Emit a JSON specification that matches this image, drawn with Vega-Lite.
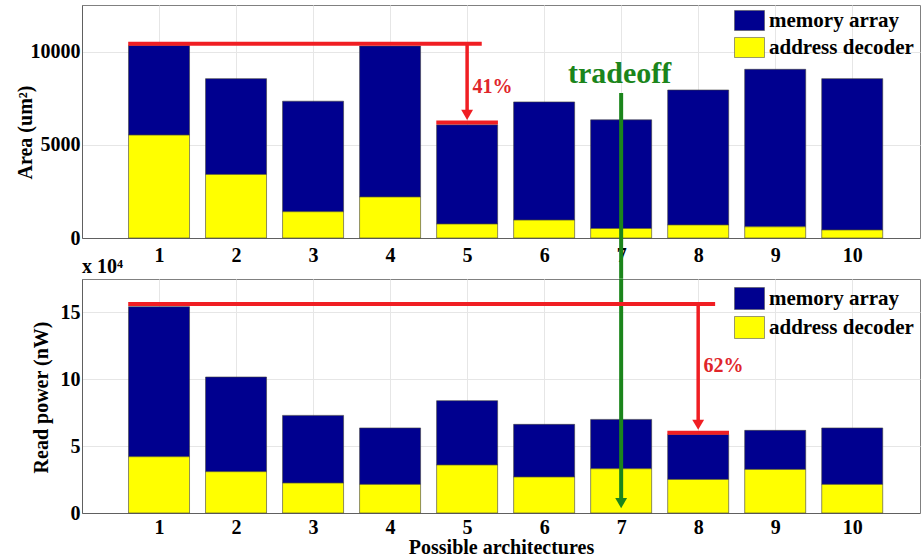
{
  "$schema": "https://vega.github.io/schema/vega-lite/v6.json",
  "padding": {"left": 14, "top": 4, "right": 0, "bottom": 0},
  "bounds": "flush",
  "spacing": 41,
  "config": {
    "font": "Liberation Serif",
    "view": {"stroke": "#808080", "strokeWidth": 1},
    "scale": {"continuousPadding": 0},
    "axis": {
      "labelFont": "Liberation Serif", "labelFontWeight": "bold", "labelFontSize": 20, "labelColor": "#000",
      "titleFont": "Liberation Serif", "titleFontWeight": "bold", "titleFontSize": 20, "titleColor": "#000",
      "ticks": false, "gridColor": "#e6e6e6", "gridWidth": 1, "domainColor": "#606060",
      "labelOverlap": false, "labelFlush": false
    },
    "title": {"font": "Liberation Serif", "fontWeight": "bold", "fontSize": 20, "color": "#000"}
  },
  "datasets": {
    "area": [
      {"arch": 1, "component": "memory array", "value": 4810}, {"arch": 1, "component": "address decoder", "value": 5520},
      {"arch": 2, "component": "memory array", "value": 5140}, {"arch": 2, "component": "address decoder", "value": 3410},
      {"arch": 3, "component": "memory array", "value": 5930}, {"arch": 3, "component": "address decoder", "value": 1410},
      {"arch": 4, "component": "memory array", "value": 8100}, {"arch": 4, "component": "address decoder", "value": 2200},
      {"arch": 5, "component": "memory array", "value": 5320}, {"arch": 5, "component": "address decoder", "value": 750},
      {"arch": 6, "component": "memory array", "value": 6340}, {"arch": 6, "component": "address decoder", "value": 960},
      {"arch": 7, "component": "memory array", "value": 5830}, {"arch": 7, "component": "address decoder", "value": 510},
      {"arch": 8, "component": "memory array", "value": 7240}, {"arch": 8, "component": "address decoder", "value": 700},
      {"arch": 9, "component": "memory array", "value": 8450}, {"arch": 9, "component": "address decoder", "value": 600},
      {"arch": 10, "component": "memory array", "value": 8120}, {"arch": 10, "component": "address decoder", "value": 430}
    ],
    "power": [
      {"arch": 1, "component": "memory array", "value": 11.22}, {"arch": 1, "component": "address decoder", "value": 4.21},
      {"arch": 2, "component": "memory array", "value": 7.08}, {"arch": 2, "component": "address decoder", "value": 3.09},
      {"arch": 3, "component": "memory array", "value": 5.06}, {"arch": 3, "component": "address decoder", "value": 2.24},
      {"arch": 4, "component": "memory array", "value": 4.22}, {"arch": 4, "component": "address decoder", "value": 2.14},
      {"arch": 5, "component": "memory array", "value": 4.81}, {"arch": 5, "component": "address decoder", "value": 3.59},
      {"arch": 6, "component": "memory array", "value": 3.94}, {"arch": 6, "component": "address decoder", "value": 2.69},
      {"arch": 7, "component": "memory array", "value": 3.69}, {"arch": 7, "component": "address decoder", "value": 3.31},
      {"arch": 8, "component": "memory array", "value": 3.37}, {"arch": 8, "component": "address decoder", "value": 2.51},
      {"arch": 9, "component": "memory array", "value": 2.92}, {"arch": 9, "component": "address decoder", "value": 3.26},
      {"arch": 10, "component": "memory array", "value": 4.22}, {"arch": 10, "component": "address decoder", "value": 2.14}
    ],
    "topH": [{"x": 0.6, "x2": 5.19, "y": 10420}, {"x": 4.6, "x2": 5.4, "y": 6200}],
    "topV": [{"x": 5, "y": 10420, "y2": 6604}],
    "topHead": [{"x": 5, "y": 6604}],
    "topText": [{"x": 5.07, "y": 7783, "label": "41%"}],
    "tradeoffText": [{"x": 6.98, "y": 8318, "label": "tradeoff"}],
    "greenTop": [{"x": 7, "y": 7783, "y2": -2180}],
    "botH": [{"x": 0.6, "x2": 8.22, "y": 15.63}, {"x": 7.6, "x2": 8.4, "y": 6.0}],
    "botV": [{"x": 8, "y": 15.63, "y2": 6.6}],
    "botHead": [{"x": 8, "y": 6.6}],
    "botText": [{"x": 8.07, "y": 10.57, "label": "62%"}],
    "greenBot": [{"x": 7, "y": 17.5, "y2": 0.73}],
    "greenHead": [{"x": 7, "y": 0.73}]
  },
  "vconcat": [
    {
      "width": 838, "height": 233,
      "layer": [
        {
          "data": {"name": "area"},
          "mark": {"type": "bar", "size": 61, "stroke": "#404040", "strokeWidth": 0.6},
          "encoding": {
            "x": {"field": "arch", "type": "quantitative", "scale": {"domain": [0, 10.88], "nice": false, "zero": false, "padding": 0},
                  "axis": {"title": null, "values": [1,2,3,4,5,6,7,8,9,10], "format": "d", "grid": true, "labelPadding": 7, "domain": true}},
            "y": {"field": "value", "type": "quantitative", "stack": "zero", "scale": {"domain": [0, 12500], "nice": false},
                  "axis": {"title": "Area (um²)", "values": [0, 5000, 10000], "format": "d", "grid": true, "labelPadding": 2,
                           "titleX": -67, "titleY": 127, "titleBaseline": "top", "titleAlign": "center", "titleAngle": -90}},
            "color": {"field": "component", "type": "nominal",
                      "scale": {"domain": ["memory array", "address decoder"], "range": ["#00008F", "#FFFF00"]},
                      "legend": {"title": null, "orient": "none", "legendX": 652, "legendY": 0, "padding": 0,
                                 "symbolType": "M-1,-0.667H1V0.667H-1Z", "symbolSize": 900, "symbolStrokeColor": "#555",
                                 "symbolStrokeWidth": 0.6, "symbolOpacity": 1, "labelOffset": 4, "rowPadding": -1,
                                 "labelFont": "Liberation Serif", "labelFontWeight": "bold", "labelFontSize": 21, "labelColor": "#000"}},
            "order": {"field": "component", "sort": "ascending"}
          }
        },
        {
          "data": {"name": "greenTop"},
          "mark": {"type": "rule", "color": "#1b851b", "strokeWidth": 4, "clip": false},
          "encoding": {
            "x": {"field": "x", "type": "quantitative", "scale": {"domain": [0, 10.88], "nice": false, "zero": false, "padding": 0}},
            "y": {"field": "y", "type": "quantitative", "scale": {"domain": [0, 12500], "nice": false}},
            "y2": {"field": "y2"}
          }
        },
        {
          "data": {"name": "topH"},
          "mark": {"type": "rule", "color": "#f01e23", "strokeWidth": 4},
          "encoding": {
            "x": {"field": "x", "type": "quantitative", "scale": {"domain": [0, 10.88], "nice": false, "zero": false, "padding": 0}},
            "x2": {"field": "x2"},
            "y": {"field": "y", "type": "quantitative", "scale": {"domain": [0, 12500], "nice": false}}
          }
        },
        {
          "data": {"name": "topV"},
          "mark": {"type": "rule", "color": "#f01e23", "strokeWidth": 3.5},
          "encoding": {
            "x": {"field": "x", "type": "quantitative", "scale": {"domain": [0, 10.88], "nice": false, "zero": false, "padding": 0}},
            "y": {"field": "y", "type": "quantitative", "scale": {"domain": [0, 12500], "nice": false}},
            "y2": {"field": "y2"}
          }
        },
        {
          "data": {"name": "topHead"},
          "mark": {"type": "point", "shape": "triangle-down", "filled": true, "size": 140, "color": "#f01e23", "opacity": 1},
          "encoding": {
            "x": {"field": "x", "type": "quantitative", "scale": {"domain": [0, 10.88], "nice": false, "zero": false, "padding": 0}},
            "y": {"field": "y", "type": "quantitative", "scale": {"domain": [0, 12500], "nice": false}}
          }
        },
        {
          "data": {"name": "topText"},
          "mark": {"type": "text", "align": "left", "baseline": "alphabetic", "font": "Liberation Serif", "fontWeight": "bold", "fontSize": 20, "color": "#e0252a"},
          "encoding": {
            "x": {"field": "x", "type": "quantitative", "scale": {"domain": [0, 10.88], "nice": false, "zero": false, "padding": 0}},
            "y": {"field": "y", "type": "quantitative", "scale": {"domain": [0, 12500], "nice": false}},
            "text": {"field": "label"}
          }
        },
        {
          "data": {"name": "tradeoffText"},
          "mark": {"type": "text", "align": "center", "baseline": "alphabetic", "font": "Liberation Serif", "fontWeight": "bold", "fontSize": 30, "color": "#1b851b"},
          "encoding": {
            "x": {"field": "x", "type": "quantitative", "scale": {"domain": [0, 10.88], "nice": false, "zero": false, "padding": 0}},
            "y": {"field": "y", "type": "quantitative", "scale": {"domain": [0, 12500], "nice": false}},
            "text": {"field": "label"}
          }
        }
      ]
    },
    {
      "width": 838, "height": 234,
      "title": {"text": "x 10⁴", "anchor": "start", "frame": "group", "offset": 0, "dx": 0},
      "layer": [
        {
          "data": {"name": "power"},
          "mark": {"type": "bar", "size": 61, "stroke": "#404040", "strokeWidth": 0.6},
          "encoding": {
            "x": {"field": "arch", "type": "quantitative", "scale": {"domain": [0, 10.88], "nice": false, "zero": false, "padding": 0},
                  "axis": {"title": "Possible architectures", "values": [1,2,3,4,5,6,7,8,9,10], "format": "d", "grid": true, "labelPadding": 4,
                           "titleY": 24, "titleBaseline": "top"}},
            "y": {"field": "value", "type": "quantitative", "stack": "zero", "scale": {"domain": [0, 17.5], "nice": false},
                  "axis": {"title": "Read power (nW)", "values": [0, 5, 10, 15], "grid": true, "labelPadding": 2,
                           "titleX": -51, "titleY": 118, "titleBaseline": "top", "titleAlign": "center", "titleAngle": -90}},
            "color": {"field": "component", "type": "nominal",
                      "scale": {"domain": ["memory array", "address decoder"], "range": ["#00008F", "#FFFF00"]},
                      "legend": {"title": null, "orient": "none", "legendX": 652, "legendY": 4, "padding": 0,
                                 "symbolType": "M-1,-0.733H1V0.733H-1Z", "symbolSize": 900, "symbolStrokeColor": "#555",
                                 "symbolStrokeWidth": 0.6, "symbolOpacity": 1, "labelOffset": 4, "rowPadding": 1,
                                 "labelFont": "Liberation Serif", "labelFontWeight": "bold", "labelFontSize": 21, "labelColor": "#000"}},
            "order": {"field": "component", "sort": "ascending"}
          }
        },
        {
          "data": {"name": "greenBot"},
          "mark": {"type": "rule", "color": "#1b851b", "strokeWidth": 4, "clip": false},
          "encoding": {
            "x": {"field": "x", "type": "quantitative", "scale": {"domain": [0, 10.88], "nice": false, "zero": false, "padding": 0}},
            "y": {"field": "y", "type": "quantitative", "scale": {"domain": [0, 17.5], "nice": false}},
            "y2": {"field": "y2"}
          }
        },
        {
          "data": {"name": "greenHead"},
          "mark": {"type": "point", "shape": "triangle-down", "filled": true, "size": 140, "color": "#1b851b", "opacity": 1},
          "encoding": {
            "x": {"field": "x", "type": "quantitative", "scale": {"domain": [0, 10.88], "nice": false, "zero": false, "padding": 0}},
            "y": {"field": "y", "type": "quantitative", "scale": {"domain": [0, 17.5], "nice": false}}
          }
        },
        {
          "data": {"name": "botH"},
          "mark": {"type": "rule", "color": "#f01e23", "strokeWidth": 4},
          "encoding": {
            "x": {"field": "x", "type": "quantitative", "scale": {"domain": [0, 10.88], "nice": false, "zero": false, "padding": 0}},
            "x2": {"field": "x2"},
            "y": {"field": "y", "type": "quantitative", "scale": {"domain": [0, 17.5], "nice": false}}
          }
        },
        {
          "data": {"name": "botV"},
          "mark": {"type": "rule", "color": "#f01e23", "strokeWidth": 3.5},
          "encoding": {
            "x": {"field": "x", "type": "quantitative", "scale": {"domain": [0, 10.88], "nice": false, "zero": false, "padding": 0}},
            "y": {"field": "y", "type": "quantitative", "scale": {"domain": [0, 17.5], "nice": false}},
            "y2": {"field": "y2"}
          }
        },
        {
          "data": {"name": "botHead"},
          "mark": {"type": "point", "shape": "triangle-down", "filled": true, "size": 140, "color": "#f01e23", "opacity": 1},
          "encoding": {
            "x": {"field": "x", "type": "quantitative", "scale": {"domain": [0, 10.88], "nice": false, "zero": false, "padding": 0}},
            "y": {"field": "y", "type": "quantitative", "scale": {"domain": [0, 17.5], "nice": false}}
          }
        },
        {
          "data": {"name": "botText"},
          "mark": {"type": "text", "align": "left", "baseline": "alphabetic", "font": "Liberation Serif", "fontWeight": "bold", "fontSize": 20, "color": "#e0252a"},
          "encoding": {
            "x": {"field": "x", "type": "quantitative", "scale": {"domain": [0, 10.88], "nice": false, "zero": false, "padding": 0}},
            "y": {"field": "y", "type": "quantitative", "scale": {"domain": [0, 17.5], "nice": false}},
            "text": {"field": "label"}
          }
        }
      ]
    }
  ],
  "resolve": {"legend": {"color": "independent"}}
}
